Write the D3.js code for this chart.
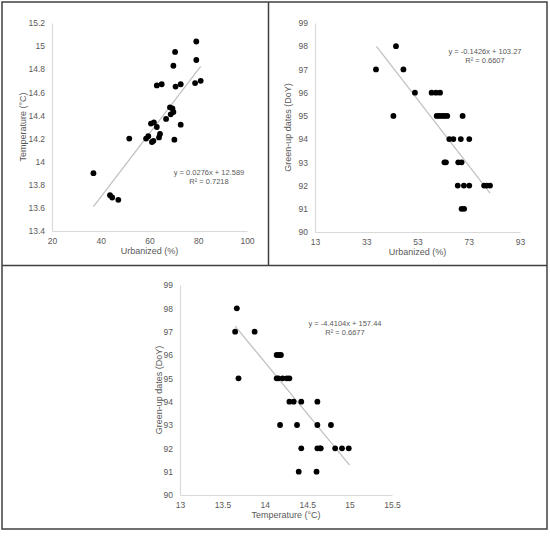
<!DOCTYPE html>
<html><head><meta charset="utf-8">
<script src="https://cdn.jsdelivr.net/npm/d3@7/dist/d3.min.js"></script>
<style>
html,body{margin:0;padding:0;background:#fff;}
svg{display:block;font-family:"Liberation Sans",Arial,sans-serif;}
</style></head>
<body>
<svg id="c" width="550" height="541"></svg>
<script>
// Panel A: Urbanized (%) vs Temperature (°C)
const urbanA = [79.2,70.5,79.2,69.8,63,65,70.7,72.8,78.7,81,68.4,69.4,69.8,68.7,66.8,60.6,61.8,63,72.8,64.3,63.9,59.5,58.6,61.6,61,70.2,51.7,37,43.8,44.7,47.2];
const tempA  = [15.04,14.95,14.88,14.83,14.66,14.67,14.65,14.67,14.68,14.70,14.47,14.46,14.43,14.41,14.37,14.33,14.34,14.30,14.32,14.24,14.21,14.22,14.20,14.18,14.17,14.19,14.20,13.90,13.71,13.69,13.67];
// Panel B: Urbanized (%) vs Green-up dates (DoY)
const urbanB = [44.6,36.8,47.5,52,58.5,60.2,61.8,43.6,60.5,61.5,62.6,63.5,64.6,70.6,65.4,67,69.9,73.2,63.5,64.1,68.9,70.2,68.7,71.1,73.2,79,80,81.3,70.2,71.2];
const greenB = [98,97,97,96,96,96,96,95,95,95,95,95,95,95,94,94,94,94,93,93,93,93,92,92,92,92,92,92,91,91];
// Panel C: Temperature (°C) vs Green-up dates (DoY)
const tempC  = [13.67,13.65,13.88,14.14,14.17,14.19,13.69,14.14,14.16,14.21,14.26,14.29,14.29,14.34,14.43,14.62,14.18,14.38,14.62,14.78,14.43,14.62,14.65,14.66,14.83,14.91,14.99,14.40,14.61];
const greenC = [98,97,97,96,96,96,95,95,95,95,95,95,94,94,94,94,93,93,93,93,92,92,92,92,92,92,92,91,91];
// Tick labels
const xTicksA = [20,40,60,80,100];
const yTicksA = [13.4,13.6,13.8,14,14.2,14.4,14.6,14.8,15,15.2];
const xTicksB = [13,33,53,73,93];
const yTicksB = [90,91,92,93,94,95,96,97,98,99];
const xTicksC = [13,13.5,14,14.5,15,15.5];
const yTicksC = [90,91,92,93,94,95,96,97,98,99];
// Trend lines: slope, intercept, x-extent, label
const trendA = {m:0.0276, b:12.589, x0:37, x1:81, eq:"y = 0.0276x + 12.589", r2:"R² = 0.7218"};
const trendB = {m:-0.1426, b:103.27, x0:37, x1:81.3, eq:"y = -0.1426x + 103.27", r2:"R² = 0.6607"};
const trendC = {m:-4.4104, b:157.44, x0:13.65, x1:15.0, eq:"y = -4.4104x + 157.44", r2:"R² = 0.6677"};

const svg = d3.select("#c");
const TXT = "#595959";

// frames
const frame = svg.append("g").attr("fill","none").attr("stroke","#404040").attr("stroke-width",1.5);
frame.append("rect").attr("x",2).attr("y",2).attr("width",545).attr("height",527);
frame.append("line").attr("x1",2).attr("x2",547).attr("y1",265.5).attr("y2",265.5);
frame.append("line").attr("x1",268.5).attr("x2",268.5).attr("y1",2).attr("y2",265.5);

function panel(cfg){
  const x = d3.scaleLinear().domain(cfg.xd).range(cfg.xr);
  const y = d3.scaleLinear().domain(cfg.yd).range(cfg.yr);
  const g = svg.append("g");
  const fmt = v => String(+v.toFixed(2));
  const ax = g.append("g").attr("transform",`translate(0,${cfg.yr[0]})`)
    .call(d3.axisBottom(x).tickValues(cfg.xt).tickSize(0).tickPadding(7).tickFormat(fmt));
  const ay = g.append("g").attr("transform",`translate(${cfg.xr[0]},0)`)
    .call(d3.axisLeft(y).tickValues(cfg.yt).tickSize(0).tickPadding(7).tickFormat(fmt));
  [ax,ay].forEach(a=>{
    a.select(".domain").attr("stroke","#d9d9d9").attr("stroke-width",1.2);
    a.selectAll("text").attr("fill",TXT).attr("font-size",8.5).attr("font-family","Liberation Sans, Arial, sans-serif");
  });
  // trend line
  const t = cfg.trend;
  g.append("line").attr("x1",x(t.x0)).attr("y1",y(t.m*t.x0+t.b))
    .attr("x2",x(t.x1)).attr("y2",y(t.m*t.x1+t.b))
    .attr("stroke","#bfbfbf").attr("stroke-width",1.2);
  // points
  g.selectAll("circle.p").data(cfg.xs.map((v,i)=>[v,cfg.ys[i]])).join("circle")
    .attr("cx",d=>x(d[0])).attr("cy",d=>y(d[1])).attr("r",2.9).attr("fill","#000");
  // equation
  const eq = g.append("text").attr("fill",TXT).attr("font-size",7.5).attr("text-anchor","middle");
  eq.append("tspan").attr("x",cfg.eqPos[0]).attr("y",cfg.eqPos[1]).text(t.eq);
  eq.append("tspan").attr("x",cfg.eqPos[0]).attr("y",cfg.eqPos[1]+9).text(t.r2);
  // titles
  g.append("text").attr("x",(cfg.xr[0]+cfg.xr[1])/2).attr("y",cfg.yr[0]+23)
    .attr("text-anchor","middle").attr("fill",TXT).attr("font-size",9).text(cfg.xTitle);
  g.append("text").attr("transform",`translate(${cfg.yTitleX},${(cfg.yr[0]+cfg.yr[1])/2}) rotate(-90)`)
    .attr("text-anchor","middle").attr("fill",TXT).attr("font-size",9).text(cfg.yTitle);
}

panel({xd:[20,100], xr:[52,247], yd:[13.4,15.2], yr:[231,23], xt:xTicksA, yt:yTicksA,
  xs:urbanA, ys:tempA, trend:trendA, eqPos:[209,175], xTitle:"Urbanized (%)", yTitle:"Temperature (°C)", yTitleX:26});
panel({xd:[13,93], xr:[315,520], yd:[90,99], yr:[232,23], xt:xTicksB, yt:yTicksB,
  xs:urbanB, ys:greenB, trend:trendB, eqPos:[485,54], xTitle:"Urbanized (%)", yTitle:"Green-up dates (DoY)", yTitleX:291});
panel({xd:[13,15.5], xr:[180,392], yd:[90,99], yr:[495,285], xt:xTicksC, yt:yTicksC,
  xs:tempC, ys:greenC, trend:trendC, eqPos:[345,326], xTitle:"Temperature (°C)", yTitle:"Green-up dates (DoY)", yTitleX:162});
</script>
</body></html>
